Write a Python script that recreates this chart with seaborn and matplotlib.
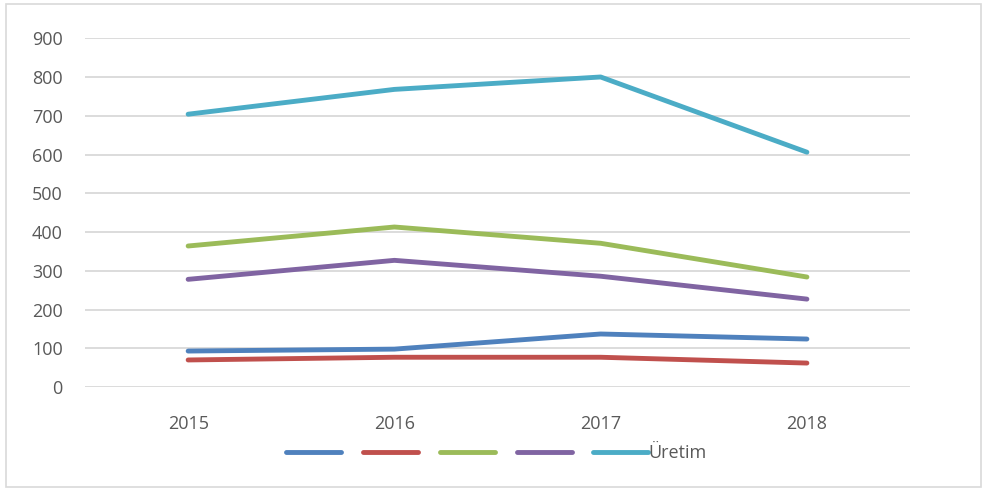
import matplotlib
matplotlib.use('Agg')
import matplotlib.pyplot as plt
import seaborn as sns
import pandas as pd
from matplotlib.lines import Line2D
from matplotlib.patches import Rectangle

years = ['2015', '2016', '2017', '2018']
series_names = ['s1', 's2', 's3', 's4', 'Üretim']
legend_labels = ['', '', '', '', 'Üretim']
blue = [93, 98, 137, 124]
red = [70, 77, 77, 62]
green = [364, 413, 371, 284]
purple = [278, 327, 286, 227]
uretim = [704, 768, 800, 606]
colors = ['#4F81BD', '#C0504D', '#9BBB59', '#8064A2', '#4BACC6']

rows = []
for name, vals in zip(series_names, [blue, red, green, purple, uretim]):
    for y, v in zip(years, vals):
        rows.append({'year': y, 'value': v, 'series': name})
df = pd.DataFrame(rows)

sns.set_style('white')
plt.rcParams['font.family'] = ['Open Sans', 'DejaVu Sans']

fig = plt.figure(figsize=(9.85, 4.9), dpi=100)
ax = fig.add_axes([0.0863, 0.21, 0.8376, 0.712])
sns.lineplot(data=df, x='year', y='value', hue='series', palette=colors,
             linewidth=3.5, ax=ax, legend=False, sort=False)
for ln in ax.lines:
    ln.set_solid_capstyle('round')
    ln.set_solid_joinstyle('round')

ax.set_xlim(-0.5, 3.5)
ax.set_ylim(0, 900)
ax.set_yticks(range(0, 1000, 100))
ax.yaxis.grid(True, color='#d9d9d9', linewidth=1.3)
ax.set_axisbelow(True)
for s in ax.spines.values():
    s.set_visible(False)
ax.tick_params(axis='both', length=0, labelsize=13, labelcolor='#595959')
ax.tick_params(axis='x', pad=20)
ax.tick_params(axis='y', pad=16)
ax.set_xlabel('')
ax.set_ylabel('')

handles = [Line2D([0], [0], color=c, linewidth=3.5, solid_capstyle='round') for c in colors]
leg = fig.legend(handles, legend_labels, loc='center', bbox_to_anchor=(0.504, 0.075),
                 ncol=5, frameon=False, fontsize=13, handlelength=3.05,
                 handletextpad=0.0, columnspacing=1.2, labelcolor='#595959')

fig.patches.append(Rectangle((0.006, 0.006), 0.99, 0.985, transform=fig.transFigure,
                             fill=False, edgecolor='#d9d9d9', linewidth=1.2))

fig.savefig('out.png', dpi=100)
